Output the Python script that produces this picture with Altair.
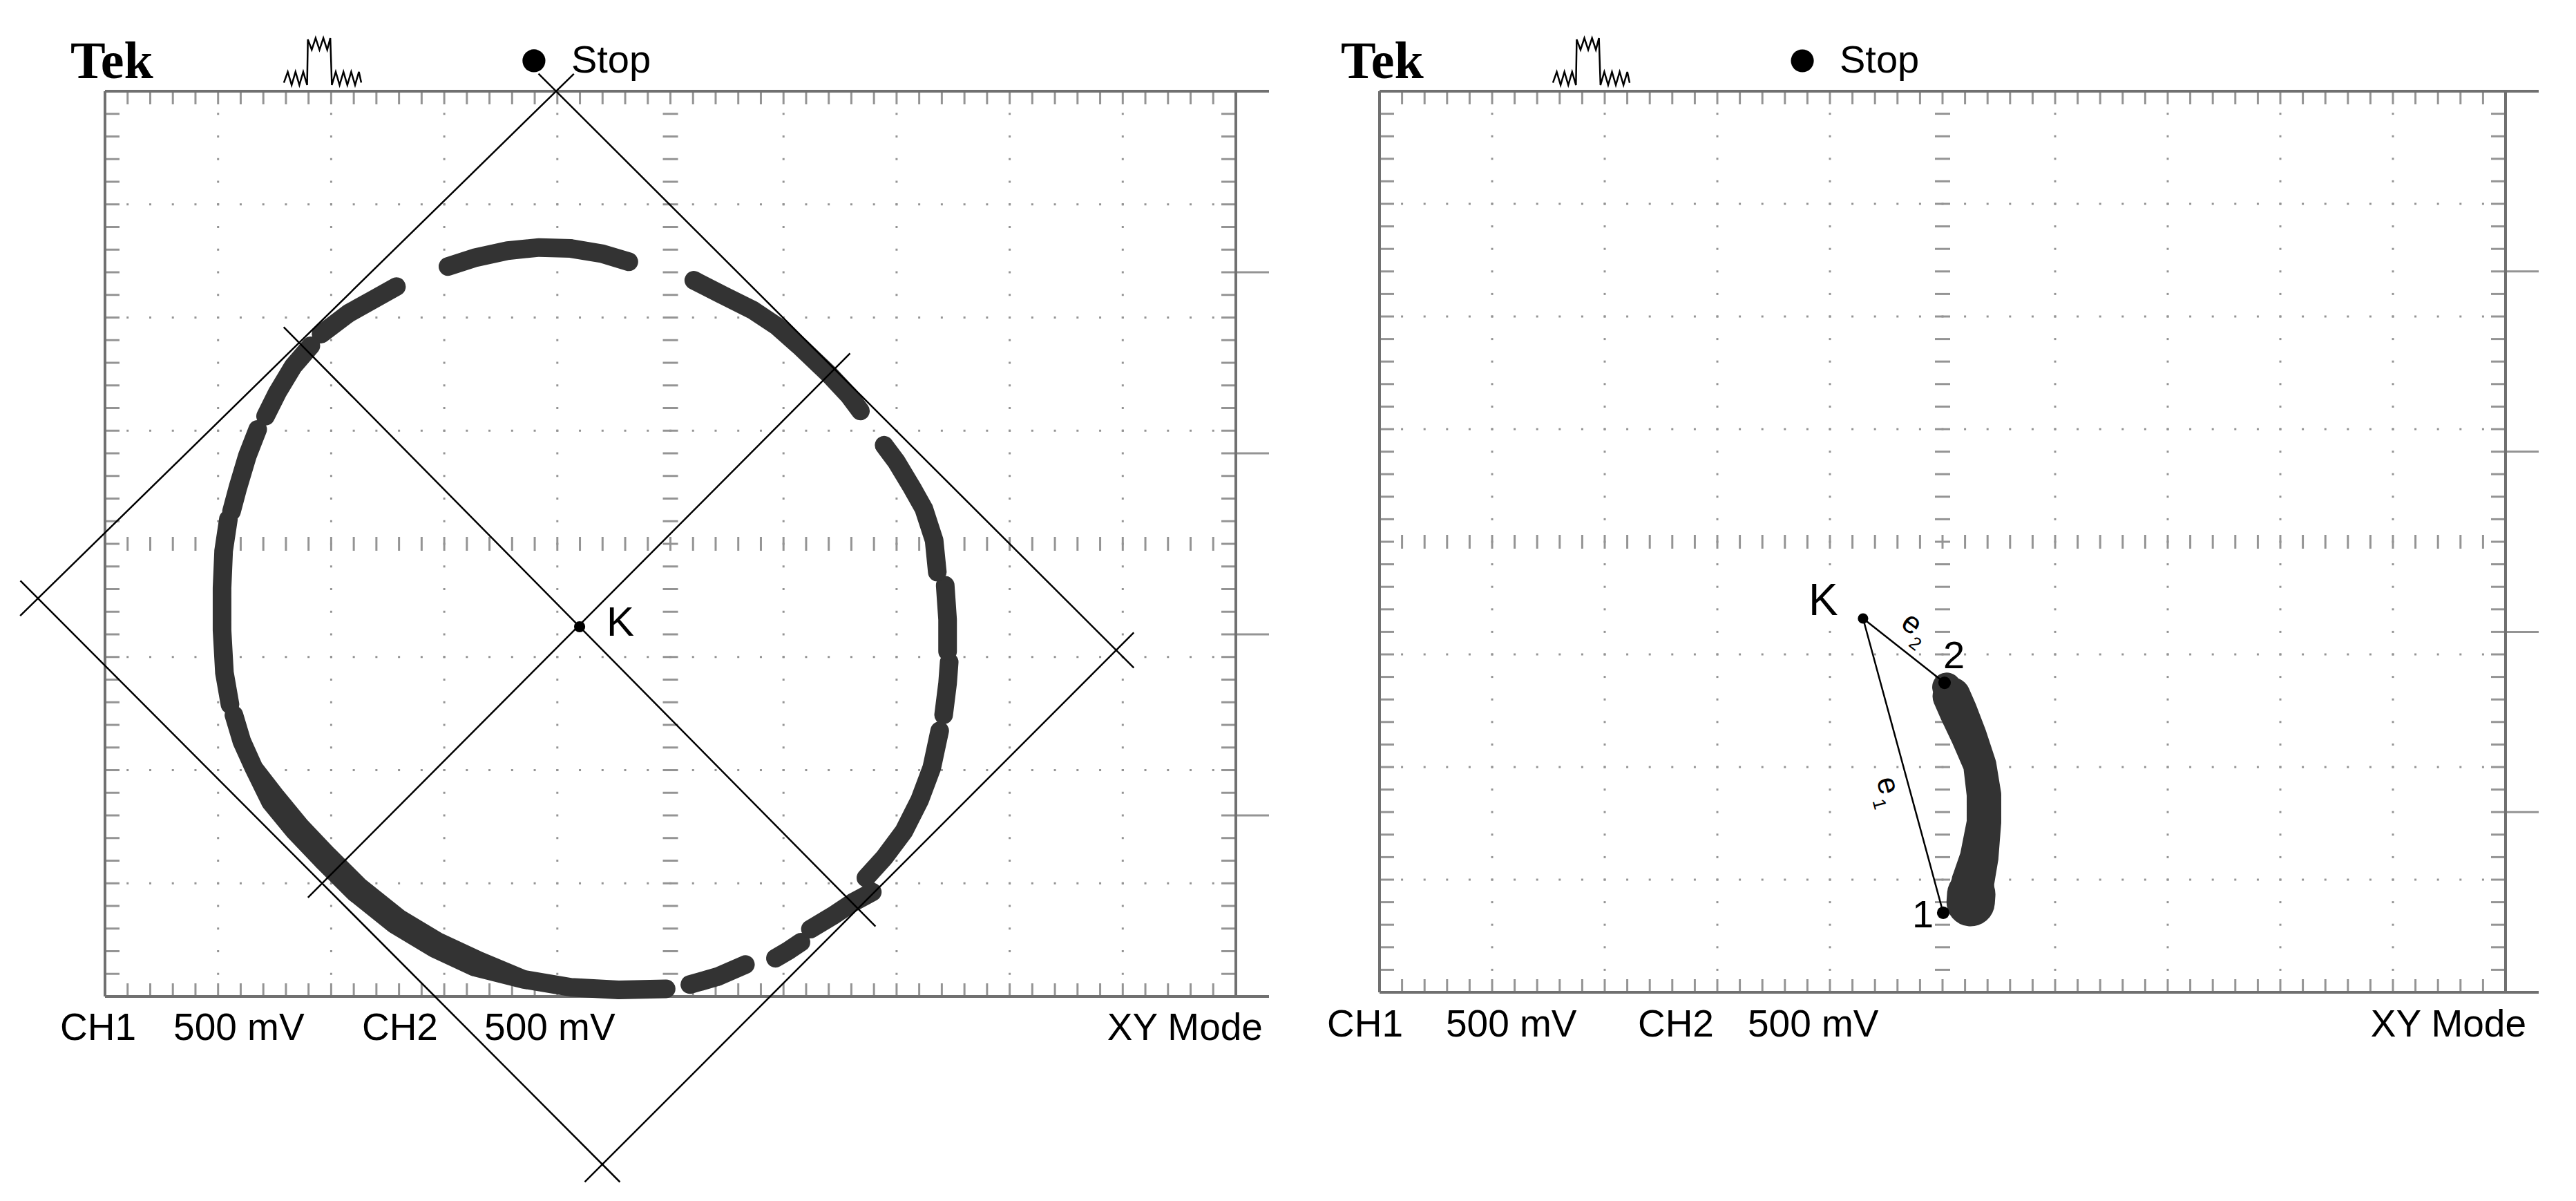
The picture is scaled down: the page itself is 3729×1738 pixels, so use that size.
import altair as alt
import numpy as np
import pandas as pd

# ---------------- values (units: screen divisions, x -5..5, y -4..4) -------------
# Left screen: visible pieces of the XY trace
TRACE_LEFT = {
    "A": [(-1.967, 2.451), (-1.721, 2.530), (-1.441, 2.591), (-1.160, 2.619), (-0.880, 2.610), (-0.599, 2.563), (-0.368, 2.493)],
    "B": [(-2.423, 2.273), (-2.633, 2.156), (-2.843, 2.039), (-3.089, 1.853)],
    "C": [(-3.180, 1.750), (-3.334, 1.572), (-3.475, 1.338), (-3.580, 1.128)],
    "D": [(-3.650, 1.011), (-3.741, 0.778), (-3.825, 0.497), (-3.881, 0.287)],
    "E": [(-3.909, 0.217), (-3.951, -0.063), (-3.965, -0.390), (-3.965, -0.764), (-3.944, -1.138), (-3.895, -1.419)],
    "F": [(-3.860, -1.512), (-3.790, -1.746), (-3.685, -1.979), (-3.510, -2.260), (-3.299, -2.517), (-3.054, -2.774),
          (-2.773, -3.054), (-2.423, -3.334), (-2.072, -3.545), (-1.721, -3.708), (-1.301, -3.848), (-0.880, -3.919),
          (-0.459, -3.942), (-0.038, -3.933)],
    "G": [(0.172, -3.895), (0.417, -3.825), (0.663, -3.718)],
    "H": [(0.929, -3.662), (1.049, -3.591), (1.154, -3.521)],
    "I": [(1.238, -3.405), (1.434, -3.288), (1.610, -3.171), (1.785, -3.077)],
    "J": [(1.729, -2.951), (1.890, -2.774), (2.065, -2.540), (2.206, -2.260), (2.311, -1.979), (2.381, -1.652)],
    "K": [(2.416, -1.512), (2.451, -1.232), (2.465, -1.045)],
    "L": [(2.451, -0.951), (2.451, -0.671), (2.430, -0.367)],
    "M": [(2.360, -0.250), (2.332, 0.030), (2.241, 0.310), (2.136, 0.497), (1.995, 0.731), (1.890, 0.871)],
    "N": [(1.680, 1.175), (1.575, 1.315), (1.399, 1.502), (1.154, 1.736), (0.943, 1.923), (0.733, 2.063),
          (0.453, 2.203), (0.207, 2.329)],
}
# Left screen: construction rectangle corners, midline ends and centre K
RECT_T = (-1.011, 4.000)
RECT_L = (-5.593, -0.482)
RECT_R = (3.942, -0.940)
RECT_B = (-0.602, -5.484)
MID_TL = (-3.265, 1.759)
MID_BR = (1.659, -3.225)
MID_TR = (1.433, 1.527)
MID_LB = (-3.050, -2.970)
K_LEFT = (-0.803, -0.733)

# Right screen: trace piece (centre line and width in px) and points K, 1, 2
BLOB_X = [0.037, 0.080, 0.141, 0.233, 0.331, 0.368, 0.368, 0.325, 0.270, 0.255, 0.250]
BLOB_Y = [-1.290, -1.370, -1.509, -1.724, -1.982, -2.245, -2.491, -2.804, -3.020, -3.130, -3.200]
BLOB_W = [42, 55, 55, 52, 48, 50, 50, 56, 62, 70, 70]
K_RIGHT = (-0.706, -0.681)
P1 = (0.006, -3.294)
P2 = (0.018, -1.252)

# right-hand screen markers (divisions)
MARKER_Y = [2.4, 0.8, -0.8, -2.4]

# header icon shape (unit square)
ICON_U = [0.00, 0.05, 0.10, 0.15, 0.20, 0.25, 0.30, 0.31, 0.36, 0.41, 0.46, 0.51, 0.56, 0.60, 0.62,
          0.67, 0.72, 0.77, 0.82, 0.87, 0.92, 0.97, 1.00]
ICON_V = [0.05, 0.28, 0.00, 0.28, 0.00, 0.28, 0.00, 0.97, 0.75, 1.00, 0.75, 1.00, 0.75, 1.00, 0.00,
          0.28, 0.00, 0.28, 0.00, 0.28, 0.00, 0.28, 0.05]

FOOTER_LABELS = ["CH1", "500 mV", "CH2", "500 mV"]
MODE_LABEL = "XY Mode"
BRAND = "Tek"
STATE = "Stop"

# ---------------- layout ----------------
W, H = 3700, 1712
PANELS = {
    "left": dict(left=144, top=124, dx=163.7, dy=163.75,
                 tek=(-5.305, 4.116), icon=(-3.418, -2.734, 4.055, 4.470), dot=(-1.207, 4.269),
                 stop=(-0.877, 4.165), foot_y=-4.385, foot_x=[-5.397, -4.395, -2.728, -1.646], mode_x=5.238),
    "right": dict(left=1989, top=124, dx=163.0, dy=163.0,
                  tek=(-5.344, 4.117), icon=(-3.460, -2.779, 4.055, 4.472), dot=(-1.245, 4.270),
                  stop=(-0.914, 4.166), foot_y=-4.393, foot_x=[-5.466, -4.411, -2.706, -1.730], mode_x=5.184),
}

GRID_C = "#949494"
BORDER_C = "#707070"
TRACE_C = "#333333"
SANS = "Liberation Sans"


def scales(p):
    xs = alt.Scale(domain=[-5 - p["left"] / p["dx"], -5 + (W - p["left"]) / p["dx"]], nice=False, zero=False)
    ys = alt.Scale(domain=[4 - (H - p["top"]) / p["dy"], 4 + p["top"] / p["dy"]], nice=False, zero=False)
    return xs, ys


def enc_xy(xs, ys, x="x", y="y"):
    return dict(x=alt.X(x, type="quantitative", scale=xs, axis=None),
                y=alt.Y(y, type="quantitative", scale=ys, axis=None))


def rules_layer(rows, xs, ys, **mk):
    df = pd.DataFrame(rows, columns=["x", "y", "x2", "y2"])
    return alt.Chart(df).mark_rule(**mk).encode(
        **enc_xy(xs, ys), x2=alt.X2("x2"), y2=alt.Y2("y2"))


def text_layer(rows, xs, ys, **mk):
    df = pd.DataFrame(rows, columns=["t", "x", "y"])
    return alt.Chart(df).mark_text(color="black", **mk).encode(**enc_xy(xs, ys), text="t:N")


def extend(p, q, e):
    p, q = np.array(p, float), np.array(q, float)
    d = (q - p) / np.linalg.norm(q - p)
    a, b = p - d * e, q + d * e
    return (a[0], a[1], b[0], b[1])


def graticule(p, xs, ys):
    dx, dy = p["dx"], p["dy"]
    xm = np.round(np.arange(-24, 25) * 0.2, 3)
    ym = np.round(np.arange(-19, 20) * 0.2, 3)
    dots = []
    for gx in range(-4, 5):
        if gx:
            dots += [(gx, v) for v in ym]
    for gy in range(-3, 4):
        if gy:
            dots += [(u, gy) for u in xm]
    dots_df = pd.DataFrame(dots, columns=["x", "y"])
    ticks = []
    for u in xm:
        ticks.append((u, 4, u, 4 - 19 / dy))
        ticks.append((u, -4, u, -4 + 19 / dy))
        ticks.append((u, -10 / dy, u, 10 / dy))
    for v in ym:
        ticks.append((-5, v, -5 + 21 / dx, v))
        ticks.append((5, v, 5 - 21 / dx, v))
        ticks.append((-11 / dx, v, 11 / dx, v))
    for v in MARKER_Y:
        ticks.append((5, v, 5 + 48 / dx, v))
    border = [(-5, 4, 5 + 48 / dx, 4), (-5, -4, 5 + 48 / dx, -4), (-5, -4, -5, 4), (5, -4, 5, 4)]
    return [
        alt.Chart(dots_df).mark_square(size=9, color=GRID_C, opacity=1).encode(**enc_xy(xs, ys)),
        rules_layer(ticks, xs, ys, color=GRID_C, strokeWidth=3),
        rules_layer(border, xs, ys, color=BORDER_C, strokeWidth=4),
    ]


def header_footer(p, xs, ys):
    x0, x1, y0, y1 = p["icon"]
    icon = pd.DataFrame({"i": range(len(ICON_U)),
                         "x": [x0 + u * (x1 - x0) for u in ICON_U],
                         "y": [y0 + v * (y1 - y0) for v in ICON_V]})
    dot = pd.DataFrame([p["dot"]], columns=["x", "y"])
    foot = [(t, x, p["foot_y"]) for t, x in zip(FOOTER_LABELS, p["foot_x"])]
    return [
        text_layer([(BRAND, *p["tek"])], xs, ys, font="Liberation Serif", fontWeight="bold", fontSize=76,
                   align="left", baseline="alphabetic"),
        alt.Chart(icon).mark_line(color="black", strokeWidth=2.5).encode(**enc_xy(xs, ys), order="i:Q"),
        alt.Chart(dot).mark_circle(size=1100, color="black", opacity=1).encode(**enc_xy(xs, ys)),
        text_layer([(STATE, *p["stop"])], xs, ys, font=SANS, fontSize=56, align="left", baseline="alphabetic"),
        text_layer(foot, xs, ys, font=SANS, fontSize=55, align="left", baseline="alphabetic"),
        text_layer([(MODE_LABEL, p["mode_x"], p["foot_y"])], xs, ys, font=SANS, fontSize=55, align="right",
                   baseline="alphabetic"),
    ]


# ---------------- left screen ----------------
pl = PANELS["left"]
xsl, ysl = scales(pl)
rows = []
k = 0
for seg, pts in TRACE_LEFT.items():
    for (x, y) in pts:
        thick = 38 if (seg == "F" and -3.6 < x < -1.5 and y < -2.1) else 27
        rows.append((seg, k, x, y, thick))
        k += 1
trace_df = pd.DataFrame(rows, columns=["seg", "i", "x", "y", "w"])
ext = 0.22
rect_lines = [extend(RECT_T, RECT_L, ext), extend(RECT_T, RECT_R, ext), extend(RECT_R, RECT_B, ext),
              extend(RECT_L, RECT_B, ext), extend(MID_TL, MID_BR, ext), extend(MID_TR, MID_LB, ext)]

left_layers = graticule(pl, xsl, ysl) + [
    alt.Chart(trace_df).mark_trail(color=TRACE_C).encode(
        **enc_xy(xsl, ysl), detail="seg:N", order="i:Q", size=alt.Size("w:Q", scale=None, legend=None)),
    rules_layer(rect_lines, xsl, ysl, color="black", strokeWidth=2.5),
    alt.Chart(pd.DataFrame([K_LEFT], columns=["x", "y"])).mark_circle(size=260, color="black", opacity=1).encode(
        **enc_xy(xsl, ysl)),
    text_layer([("K", K_LEFT[0] + 0.238, K_LEFT[1] - 0.079)], xsl, ysl, font=SANS, fontSize=60, align="left",
               baseline="alphabetic"),
] + header_footer(pl, xsl, ysl)

# ---------------- right screen ----------------
pr = PANELS["right"]
xsr, ysr = scales(pr)
blob_df = pd.DataFrame({"i": range(len(BLOB_X)), "x": BLOB_X, "y": BLOB_Y, "w": BLOB_W})
pts_df = pd.DataFrame([K_RIGHT, P1, P2], columns=["x", "y"])
pts_df["s"] = [230, 330, 330]

right_layers = graticule(pr, xsr, ysr) + [
    alt.Chart(blob_df).mark_trail(color=TRACE_C).encode(
        **enc_xy(xsr, ysr), order="i:Q", size=alt.Size("w:Q", scale=None, legend=None)),
    rules_layer([(*K_RIGHT, *P2), (*K_RIGHT, *P1)], xsr, ysr, color="black", strokeWidth=2.5),
    alt.Chart(pts_df).mark_circle(color="black", opacity=1).encode(
        **enc_xy(xsr, ysr), size=alt.Size("s:Q", scale=None, legend=None)),
    text_layer([("K", -1.190, -0.650)], xsr, ysr, font=SANS, fontSize=64, align="left", baseline="alphabetic"),
    text_layer([("2", 0.006, -1.123), ("1", -0.270, -3.423)], xsr, ysr, font=SANS, fontSize=56, align="left",
               baseline="alphabetic"),
    text_layer([("e", -0.276, -0.730)], xsr, ysr, font=SANS, fontSize=44, align="center", baseline="middle",
               angle=37),
    text_layer([("2", -0.245, -0.908)], xsr, ysr, font=SANS, fontSize=26, align="center", baseline="middle",
               angle=37),
    text_layer([("e", -0.491, -2.166)], xsr, ysr, font=SANS, fontSize=44, align="center", baseline="middle",
               angle=75),
    text_layer([("1", -0.564, -2.331)], xsr, ysr, font=SANS, fontSize=26, align="center", baseline="middle",
               angle=75),
] + header_footer(pr, xsr, ysr)

left = alt.layer(*left_layers)
right = alt.layer(*right_layers)

chart = alt.layer(left, right).resolve_scale(x="independent", y="independent", size="independent").properties(
    width=W, height=H, autosize=alt.AutoSizeParams(type="none"), padding=0, background="white"
).configure_view(stroke=None)

chart.save("out.html", embed_options={"renderer": "svg", "actions": False})
